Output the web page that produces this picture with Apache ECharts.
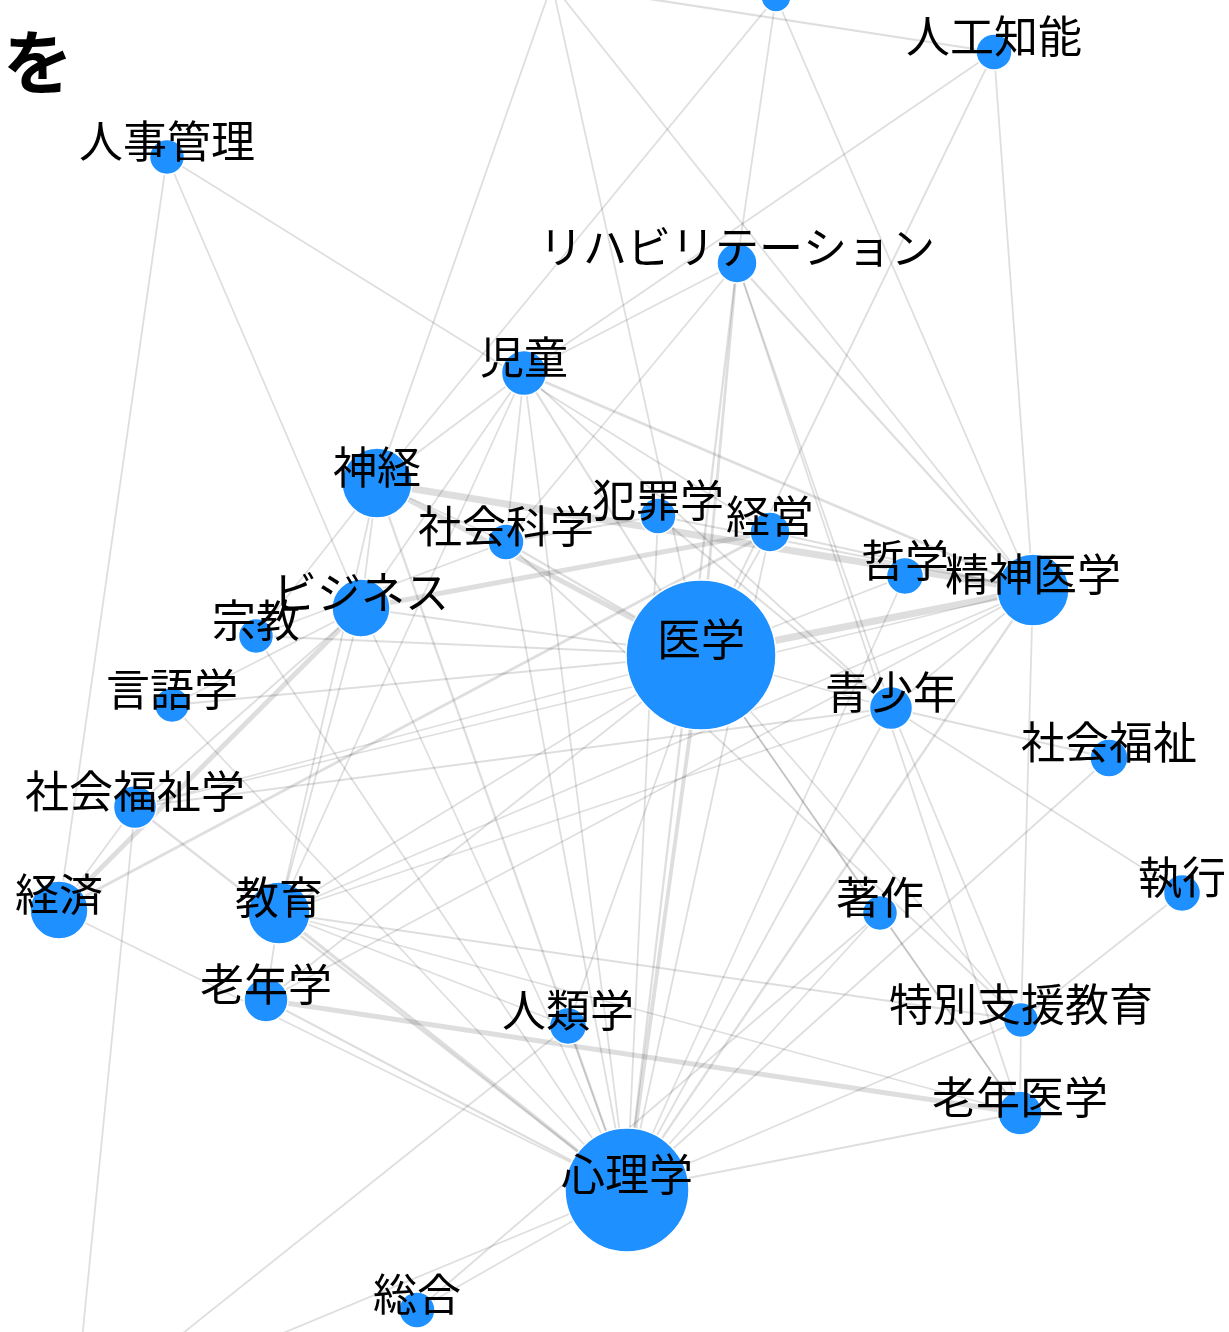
<!DOCTYPE html>
<html><head><meta charset="utf-8">
<script src="https://cdn.jsdelivr.net/npm/echarts@6/dist/echarts.min.js"></script>
<style>html,body{margin:0;padding:0;background:#fff}#c{width:1229px;height:1332px}</style>
</head><body><div id="c"></div>
<script>
// Node names (hidden ids for nodes whose labels lie outside the view)
var nodeNames = ['人工知能','人事管理','リハビリテーション','児童','神経','社会科学','犯罪学','経営','哲学','精神医学',
  'ビジネス','宗教','医学','言語学','青少年','社会福祉','社会福祉学','経済','教育','著作',
  '執行','老年学','人類学','特別支援教育','老年医学','心理学','総合','_a','_b','_c'];
// Layout coordinates of each node (graph layout space)
var nodeX = [994,167,737,524,377,506,658,770,905,1033,361,256,701,172,891,1109,135,59,279,880,1182,266,568,1021,1020,627,417,552,776,74];
var nodeY = [52,157,263,373,483,542,516,532,576,590,608,636,655,705,708,758,807,910,913,913,893,1000,1026,1020,1113,1190,1310,-16,-3,1420];
// Node weight (drawn diameter)
var nodeWeight = [36,35,40,45,70,36,36,40,37,72,58,35,150,35,43,38,43,58,62,35,37,44,37,35,44,124,36,30,30,30];
// Links: source, target, weight
var linkSource = ['_a','_a','_a','_a','_b','_b','_b','_c','_c','_c',
  '人工知能','人工知能','人工知能','人事管理','人事管理','人事管理',
  'リハビリテーション','リハビリテーション','リハビリテーション','リハビリテーション','リハビリテーション','リハビリテーション',
  '児童','児童','児童','児童','児童','児童','児童','児童','児童',
  '神経','神経','神経','神経','神経','神経','神経',
  'ビジネス','ビジネス','ビジネス','ビジネス','ビジネス','ビジネス','ビジネス',
  '経済','経済','経済','社会福祉学','社会福祉学','社会福祉学','社会福祉学',
  '言語学','言語学','宗教','宗教','宗教','社会科学','社会科学','社会科学','社会科学',
  '犯罪学','犯罪学','犯罪学','経営','経営','経営','哲学','哲学',
  '医学','精神医学','精神医学','精神医学','精神医学','精神医学',
  '青少年','青少年','青少年','青少年','青少年','社会福祉','社会福祉','執行',
  '著作','著作','著作','著作','特別支援教育','特別支援教育','特別支援教育','特別支援教育',
  '老年学','老年医学','老年医学','老年医学','医学','医学','医学','医学',
  '人類学','人類学','総合','教育','教育','老年学'];
var linkTarget = ['神経','医学','精神医学','人工知能','神経','リハビリテーション','精神医学','社会福祉学','人類学','心理学',
  '児童','医学','精神医学','経済','ビジネス','経営',
  '医学','心理学','精神医学','社会科学','青少年','老年医学',
  'リハビリテーション','神経','社会科学','ビジネス','医学','精神医学','心理学','教育','青少年',
  '精神医学','医学','ビジネス','心理学','教育','宗教','社会科学',
  '経営','経済','心理学','社会福祉学','教育','言語学','医学',
  '経営','心理学','社会福祉学','心理学','医学','精神医学','青少年',
  '心理学','医学','心理学','社会科学','医学','医学','心理学','犯罪学','特別支援教育',
  '青少年','心理学','精神医学','心理学','医学','精神医学','医学','心理学',
  '精神医学','心理学','教育','青少年','特別支援教育','老年学',
  '心理学','執行','特別支援教育','教育','医学','心理学','青少年','特別支援教育',
  '医学','心理学','老年医学','総合','教育','心理学','老年医学','医学',
  '老年医学','心理学','医学','教育','心理学','教育','人類学','老年学',
  '心理学','教育','心理学','心理学','老年学','心理学'];
var linkWeight = [1,1,1,1.5,1,1,1,1,1,1,
  1,1,1,1,1,1,
  2,1.5,1.5,1,1,1,
  1,1,1,1,1.5,2,1,1,1,
  6,4,1,1.5,1,1,1,
  4,4,1,1,1,1,1,
  2,1,1,1.5,1,1,1,
  1,1,1,1,1,1.5,1,1,1,
  1.5,1,1,1,1,1,1,1,
  6,1.5,1,1,1,1,
  1,1,1,1,1,1,1,1,
  1,1,1,1,1.5,1,1,1,
  4,1,1,1,3,1,1,1,
  1,1,1,2.5,1,1.5];

var nodes = nodeNames.map(function(n,i){
  var hidden = n.charAt(0) === '_';
  return {name:n, value:[nodeX[i], nodeY[i]], symbolSize:nodeWeight[i],
    label:{show:!hidden}};
});
var links = linkSource.map(function(s,i){
  var w = linkWeight[i];
  return {source:s, target:linkTarget[i], lineStyle:{width: w <= 1 ? 1.8 : w * 1.1 + 0.6}};
});

var chart = echarts.init(document.getElementById('c'), null, {renderer:'canvas'});
chart.setOption({
  animation:false,
  backgroundColor:'#fff',
  title:{text:'を', left:-2, top:22, textStyle:{fontSize:70, fontWeight:'bold', color:'#000', fontFamily:'Noto Sans CJK JP'}},
  grid:{left:0, right:0, top:0, bottom:0},
  xAxis:{type:'value', min:0, max:1229, show:false},
  yAxis:{type:'value', min:0, max:1332, inverse:true, show:false},
  series:[{
    type:'graph', coordinateSystem:'cartesian2d', layout:'none',
    data:nodes, links:links, symbol:'circle',
    itemStyle:{color:'#1e90ff', borderColor:'#fff', borderWidth:1.5},
    lineStyle:{color:'rgba(0,0,0,0.13)', opacity:1, curveness:0},
    label:{show:true, position:'inside', offset:[0,-16], color:'#000', fontSize:44,
      fontFamily:'Noto Sans CJK JP', fontWeight:'normal'},
    emphasis:{disabled:true}
  }]
});
</script></body></html>
